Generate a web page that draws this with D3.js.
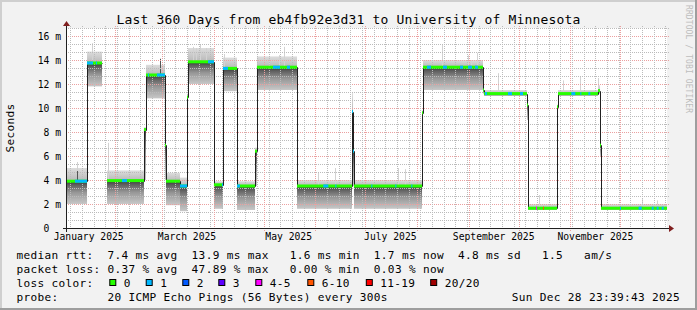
<!DOCTYPE html>
<html>
<head>
<meta charset="utf-8">
<style>
  * { margin: 0; padding: 0; }
  body { background: #f2f2f2; width: 697px; height: 310px; overflow: hidden; }
  svg { display: block; }
  text { font-family: 'DejaVu Sans Mono', monospace; white-space: pre; }
</style>
</head>
<body>
<svg id="chart" width="697" height="310"></svg>
<script src="https://cdn.jsdelivr.net/npm/d3@7"></script>
<script>
// each run lasts from its date to the next one; the last date closes the graph
const segDates = [
  '2025-01-02 23:39', '2025-01-15 00:00', '2025-01-24 00:00', '2025-01-27 00:00',
  '2025-02-18 04:00', '2025-02-19 09:00', '2025-03-02 19:00', '2025-03-03 09:00',
  '2025-03-11 19:00', '2025-03-16 00:00', '2025-03-16 14:00', '2025-04-01 04:00',
  '2025-04-06 14:00', '2025-04-15 00:00', '2025-04-25 19:00', '2025-04-26 23:00',
  '2025-05-21 00:00', '2025-06-23 00:00', '2025-06-23 14:00', '2025-06-24 04:00',
  '2025-08-04 00:00', '2025-08-04 14:00', '2025-09-09 14:00', '2025-09-10 04:00',
  '2025-10-06 00:00', '2025-10-06 14:00', '2025-10-24 00:00', '2025-10-24 14:00',
  '2025-11-17 14:00', '2025-11-18 19:00', '2025-11-19 09:00', '2025-12-28 23:39'
];
// median rtt in ms (null = no data)
const segMedian = [3.9, 13.75, null, 3.95, 8.2, 12.75, 6.9, 3.9, 3.5, 10.9, 13.85, 3.6,
  13.3, 3.5, 6.4, 13.4, 3.5, 9.7, 6.4, 3.5, 9.6, 13.4, 11.5, 11.2, 10.25, 1.65,
  10.1, 11.2, 11.45, 6.9, 1.65];
// slowest and fastest pings of the smoke
const smokeTop = [5.0, 14.7, null, 4.8, 8.4, 13.6, 7.2, 4.6, 4.2, 11.2, 15.0, 3.9,
  14.2, 3.9, 6.7, 14.3, 4.0, 11.25, 6.6, 4.0, 9.8, 14.0, 11.7, 11.5, 10.5, 2.0,
  10.3, 11.5, 11.9, 7.2, 2.0];
const smokeBottom = [2.0, 11.8, null, 2.0, 4.0, 10.8, 4.0, 1.9, 1.4, 4.0, 12.0, 1.6,
  11.4, 1.5, 3.5, 11.5, 1.6, 6.5, 3.5, 1.6, 8.0, 11.5, 11.2, 11.0, 9.0, 1.5,
  9.5, 11.0, 11.2, 6.0, 1.5];

// periods with packet loss (level = index into lossColors)
const lossStart = [
  '2025-01-07 18:00', '2025-01-15 00:00', '2025-01-20 09:00', '2025-02-04 23:00',
  '2025-02-20 14:00', '2025-02-25 23:00', '2025-03-11 19:00', '2025-03-28 14:00',
  '2025-04-05 23:00', '2025-04-06 14:00', '2025-04-15 00:00', '2025-05-06 14:00',
  '2025-05-14 23:00', '2025-06-05 19:00', '2025-06-12 23:00', '2025-06-23 00:00',
  '2025-06-23 14:00', '2025-07-04 14:00', '2025-07-18 23:00', '2025-07-28 14:00',
  '2025-08-06 23:00', '2025-08-16 14:00', '2025-08-26 19:00', '2025-08-31 14:00',
  '2025-09-04 19:00', '2025-09-10 19:00', '2025-09-24 14:00', '2025-10-01 19:00',
  '2025-10-11 09:00', '2025-10-15 14:00', '2025-11-01 14:00', '2025-11-06 23:00',
  '2025-11-11 19:00', '2025-11-30 19:00', '2025-12-11 23:00', '2025-12-19 19:00',
  '2025-12-22 19:00', '2025-12-25 19:00'
];
const lossEnd = [
  '2025-01-15 00:00', '2025-01-18 14:00', '2025-01-21 00:00', '2025-02-07 23:00',
  '2025-02-21 04:00', '2025-03-02 19:00', '2025-03-16 00:00', '2025-04-01 04:00',
  '2025-04-06 14:00', '2025-04-09 14:00', '2025-04-16 19:00', '2025-05-10 19:00',
  '2025-05-16 19:00', '2025-06-08 19:00', '2025-06-13 14:00', '2025-06-23 14:00',
  '2025-06-24 04:00', '2025-07-05 04:00', '2025-07-19 14:00', '2025-07-29 04:00',
  '2025-08-09 09:00', '2025-08-18 23:00', '2025-08-28 14:00', '2025-09-02 23:00',
  '2025-09-06 14:00', '2025-09-11 23:00', '2025-09-26 23:00', '2025-10-03 14:00',
  '2025-10-11 23:00', '2025-10-16 04:00', '2025-11-03 23:00', '2025-11-07 14:00',
  '2025-11-12 23:00', '2025-12-01 09:00', '2025-12-13 19:00', '2025-12-20 23:00',
  '2025-12-23 23:00', '2025-12-26 23:00'
];
const lossLevel = [1, 1, 1, 1, 1, 1, 1, 1, 1, 1, 1, 1, 1, 1, 1, 1, 1, 1, 1, 1,
  1, 1, 1, 1, 1, 1, 1, 1, 4, 5, 1, 1, 1, 1, 1, 1, 1, 1];

// single slow pings sticking out of the smoke
const spikeDates = [
  '2025-01-08 23:00', '2025-01-17 23:00', '2025-01-27 14:00', '2025-03-19 09:00',
  '2025-03-21 09:00', '2025-03-23 19:00', '2025-03-27 09:00', '2025-04-07 09:00',
  '2025-05-04 09:00', '2025-05-10 09:00', '2025-05-12 23:00', '2025-06-02 19:00',
  '2025-06-12 23:00', '2025-07-20 19:00', '2025-07-24 23:00', '2025-08-15 23:00',
  '2025-08-31 14:00', '2025-09-02 09:00', '2025-09-05 23:00', '2025-09-18 14:00',
  '2025-10-12 23:00', '2025-10-27 14:00', '2025-11-06 23:00', '2025-11-17 14:00',
  '2025-12-13 19:00', '2025-12-22 19:00'
];
const spikeValues = [5.5, 15.4, 7.1, 15.1, 15.0, 15.25, 15.0, 14.5, 14.2, 14.4, 15.1, 4.6,
  5.0, 5.0, 4.9, 15.25, 14.4, 14.0, 14.6, 12.9, 2.75, 12.3, 12.6, 12.5, 2.4, 2.3];
const darkSpikeDates = ['2025-01-08 23:00', '2025-02-27 19:00'];
const darkSpikeValues = [4.75, 14.1];

const yTicks = [0, 2, 4, 6, 8, 10, 12, 14, 16];
const yTickLabels = ['0  ', '2 m', '4 m', '6 m', '8 m', '10 m', '12 m', '14 m', '16 m'];
const monthLabels = ['January 2025', 'March 2025', 'May 2025', 'July 2025', 'September 2025', 'November 2025'];
const monthLabelDates = ['2025-01-16 00:00', '2025-03-16 00:00', '2025-05-16 00:00',
  '2025-07-16 00:00', '2025-09-16 00:00', '2025-11-16 00:00'];
const lossNames = ['0', '1', '2', '3', '4-5', '6-10', '11-19', '20/20'];
const lossColors = ['#26ff00', '#00b8ff', '#0059ff', '#5e00ff', '#ff00ff', '#ff5500', '#ff0000', '#a00000'];

const titleText = 'Last 360 Days from eb4fb92e3d31 to University of Minnesota';
const legendRtt = 'median rtt:  7.4 ms avg  13.9 ms max   1.6 ms min  1.7 ms now  4.8 ms sd   1.5   am/s';
const legendLoss = 'packet loss: 0.37 % avg  47.89 % max   0.00 % min  0.03 % now';
const legendProbe = 'probe:       20 ICMP Echo Pings (56 Bytes) every 300s';
const stampText = 'Sun Dec 28 23:39:43 2025';

const W = 697, H = 310;
const X0 = 67, X1 = 667, Y0 = 228, Y1 = 28;
const yMax = 50 / 3;
const parse = d3.utcParse('%Y-%m-%d %H:%M');
const segTimes = segDates.map(parse);

const x = d3.scaleUtc().domain([segTimes[0], segTimes[segTimes.length - 1]]).range([X0, X1]);
const y = d3.scaleLinear().domain([0, yMax]).range([Y0, Y1]);

const svg = d3.select('#chart');
svg.append('rect').attr('width', W).attr('height', H).attr('fill', '#f2f2f2');
// 3d frame
svg.append('rect').attr('x', 0).attr('y', 0).attr('width', W).attr('height', 2).attr('fill', '#cfcfcf');
svg.append('rect').attr('x', 0).attr('y', 0).attr('width', 2).attr('height', H).attr('fill', '#cfcfcf');
svg.append('rect').attr('x', 0).attr('y', H - 2).attr('width', W).attr('height', 2).attr('fill', '#9e9e9e');
svg.append('rect').attr('x', W - 2).attr('y', 0).attr('width', 2).attr('height', H).attr('fill', '#9e9e9e');

svg.append('rect').attr('x', X0).attr('y', Y1).attr('width', X1 - X0).attr('height', Y0 - Y1).attr('fill', '#fff');

const defs = svg.append('defs');
defs.append('clipPath').attr('id', 'plot').append('rect')
  .attr('x', X0).attr('y', Y1).attr('width', X1 - X0).attr('height', Y0 - Y1);
const up = defs.append('linearGradient').attr('id', 'smokeUp').attr('x1', 0).attr('y1', 0).attr('x2', 0).attr('y2', 1);
up.append('stop').attr('offset', 0).attr('stop-color', '#dddddd');
up.append('stop').attr('offset', 1).attr('stop-color', '#b8b8b8');
const down = defs.append('linearGradient').attr('id', 'smokeDown').attr('x1', 0).attr('y1', 0).attr('x2', 0).attr('y2', 1);
down.append('stop').attr('offset', 0).attr('stop-color', '#363636');
down.append('stop').attr('offset', 0.15).attr('stop-color', '#5c5c5c');
down.append('stop').attr('offset', 0.5).attr('stop-color', '#979797');
down.append('stop').attr('offset', 1).attr('stop-color', '#c8c8c8');

// dotted grid as 1px pixel patterns
const gridMinor = '#bbbbbb', gridMajor = '#eba0a0';
function dots(id, w, h, color) {
  const p = defs.append('pattern').attr('id', id).attr('patternUnits', 'userSpaceOnUse')
    .attr('x', 0).attr('y', 0).attr('width', w).attr('height', h);
  p.append('rect').attr('width', 1).attr('height', 1).attr('fill', color);
}
dots('hMinor', 2, 1, gridMinor);
dots('hMajor', 2, 1, gridMajor);
dots('vMinor', 1, 2, gridMinor);
dots('vMajor', 1, 2, gridMajor);

const data = svg.append('g').attr('clip-path', 'url(#plot)');
const segs = segMedian.map((v, i) => ({ i, v, t0: segTimes[i], t1: segTimes[i + 1] })).filter(s => s.v != null);

// smoke
data.selectAll('rect.up').data(segs).join('rect').attr('class', 'up')
  .attr('x', s => x(s.t0)).attr('width', s => Math.max(1, x(s.t1) - x(s.t0)))
  .attr('y', s => y(smokeTop[s.i])).attr('height', s => y(s.v) - y(smokeTop[s.i]))
  .attr('fill', 'url(#smokeUp)');
data.selectAll('rect.down').data(segs).join('rect').attr('class', 'down')
  .attr('x', s => x(s.t0)).attr('width', s => Math.max(1, x(s.t1) - x(s.t0)))
  .attr('y', s => y(s.v)).attr('height', s => y(smokeBottom[s.i]) - y(s.v))
  .attr('fill', 'url(#smokeDown)');

function medianAt(t) {
  const k = d3.bisectRight(segTimes, t) - 1;
  return segMedian[Math.max(0, Math.min(k, segMedian.length - 1))];
}

// outlier pings
data.selectAll('line.spike').data(spikeDates).join('line').attr('class', 'spike')
  .attr('x1', d => Math.round(x(parse(d))) + 0.5).attr('x2', d => Math.round(x(parse(d))) + 0.5)
  .attr('y1', d => y(medianAt(parse(d)))).attr('y2', (d, k) => y(spikeValues[k]))
  .attr('stroke', '#d2d2d2').attr('stroke-width', 1);
data.selectAll('line.dspike').data(darkSpikeDates).join('line').attr('class', 'dspike')
  .attr('x1', d => Math.round(x(parse(d))) + 0.5).attr('x2', d => Math.round(x(parse(d))) + 0.5)
  .attr('y1', d => y(medianAt(parse(d)))).attr('y2', (d, k) => y(darkSpikeValues[k]))
  .attr('stroke', '#555').attr('stroke-width', 1);

// grid
const grid = svg.append('g');
d3.range(0, yMax + 1e-6, 2 / 3).forEach(v => {
  const major = yTicks.some(t => Math.abs(t - v) < 1e-6);
  grid.append('rect').attr('x', X0 - 2).attr('width', X1 - X0 + 4)
    .attr('y', Math.round(y(v))).attr('height', 1)
    .attr('fill', major ? 'url(#hMajor)' : 'url(#hMinor)');
});
const tStart = segTimes[0], tEnd = segTimes[segTimes.length - 1];
const months = d3.utcMonth.range(tStart, tEnd);
d3.utcWeek.range(tStart, tEnd).forEach(t => {
  grid.append('rect').attr('x', Math.round(x(t))).attr('width', 1)
    .attr('y', Y1 - 2).attr('height', Y0 - Y1 + 4).attr('fill', 'url(#vMinor)');
});
months.forEach(t => {
  grid.append('rect').attr('x', Math.round(x(t))).attr('width', 1)
    .attr('y', Y1 - 2).attr('height', Y0 - Y1 + 5).attr('fill', 'url(#vMajor)');
});

// median line and loss colour bands above the grid
const front = svg.append('g').attr('clip-path', 'url(#plot)');
const pts = [];
segMedian.forEach((v, i) => {
  if (v == null) { pts.push(null); return; }
  pts.push([segTimes[i], v], [segTimes[i + 1], v]);
});
const line = d3.line().defined(p => p != null).x(p => Math.round(x(p[0])) + 0.5).y(p => Math.round(y(p[1])) + 0.5);
front.append('path').attr('d', line(pts)).attr('fill', 'none').attr('stroke', '#202020').attr('stroke-width', 1);

front.selectAll('rect.loss0').data(segs).join('rect').attr('class', 'loss0')
  .attr('x', s => x(s.t0)).attr('width', s => Math.max(1, x(s.t1) - x(s.t0)))
  .attr('y', s => y(s.v) - 1.5).attr('height', 3).attr('fill', lossColors[0]);
front.selectAll('rect.loss').data(lossStart).join('rect').attr('class', 'loss')
  .attr('x', d => x(parse(d))).attr('width', (d, k) => Math.max(1, x(parse(lossEnd[k])) - x(parse(d))))
  .attr('y', d => y(medianAt(parse(d))) - 1.5).attr('height', 3)
  .attr('fill', (d, k) => lossColors[lossLevel[k]]);

// axes
const axisC = '#1f1f1f', arrowC = '#801f1f';
svg.append('line').attr('x1', X0 - 4).attr('x2', X1 + 4).attr('y1', Y0 + 0.5).attr('y2', Y0 + 0.5).attr('stroke', axisC);
svg.append('line').attr('x1', X0 - 0.5).attr('x2', X0 - 0.5).attr('y1', Y0 + 4).attr('y2', Y1 - 4).attr('stroke', axisC);
svg.append('path').attr('d', `M${X1 + 2},${Y0 - 3}L${X1 + 2},${Y0 + 4}L${X1 + 7},${Y0 + 0.5}Z`).attr('fill', arrowC);
svg.append('path').attr('d', `M${X0 - 4},${Y1 - 2}L${X0 + 3},${Y1 - 2}L${X0 - 0.5},${Y1 - 7}Z`).attr('fill', arrowC);

// y labels
svg.selectAll('text.ylab').data(yTicks).join('text').attr('class', 'ylab')
  .attr('x', 61).attr('y', v => y(v) + 3.5).attr('text-anchor', 'end')
  .attr('font-size', 9.7).attr('fill', '#000').text((v, k) => yTickLabels[k]);
// x labels
svg.selectAll('text.xlab').data(monthLabelDates).join('text').attr('class', 'xlab')
  .attr('x', d => x(parse(d))).attr('y', 240).attr('text-anchor', 'middle')
  .attr('font-size', 9.7).attr('fill', '#000').text((d, k) => monthLabels[k]);

svg.append('text').attr('transform', `translate(14,${(Y0 + Y1) / 2}) rotate(-90)`)
  .attr('text-anchor', 'middle').attr('font-size', 11.1).attr('letter-spacing', 0.3).text('Seconds');

svg.append('text').attr('x', W / 2).attr('y', 24).attr('text-anchor', 'middle')
  .attr('font-size', 13).attr('letter-spacing', 0.17).text(titleText);

svg.append('text').attr('transform', 'translate(686,5) rotate(90)')
  .attr('font-size', 8).attr('letter-spacing', 0.1).attr('fill', '#bdbdbd').text('RRDTOOL / TOBI OETIKER');

// legend
const lx = 16.4, lfs = 11.1, lls = 0.33;
[legendRtt, legendLoss].forEach((s, k) => {
  svg.append('text').attr('x', lx).attr('y', 259 + k * 14).attr('font-size', lfs).attr('letter-spacing', lls).text(s);
});
svg.append('text').attr('x', lx).attr('y', 287).attr('font-size', lfs).attr('letter-spacing', lls).text('loss color:');
const boxX = [109.3, 145.7, 182.3, 218.3, 255.3, 307.3, 365.8, 430.2];
lossNames.forEach((n, k) => {
  svg.append('rect').attr('x', boxX[k] + 0.5).attr('y', 279.5).attr('width', 6).attr('height', 6)
    .attr('fill', lossColors[k]).attr('stroke', '#000').attr('stroke-width', 1);
  svg.append('text').attr('x', boxX[k] + 14.5).attr('y', 287).attr('font-size', lfs).attr('letter-spacing', lls).text(n);
});
svg.append('text').attr('x', lx).attr('y', 301).attr('font-size', lfs).attr('letter-spacing', lls).text(legendProbe);
svg.append('text').attr('x', 680).attr('y', 301).attr('text-anchor', 'end').attr('font-size', lfs).attr('letter-spacing', lls).text(stampText);
</script>
</body>
</html>
